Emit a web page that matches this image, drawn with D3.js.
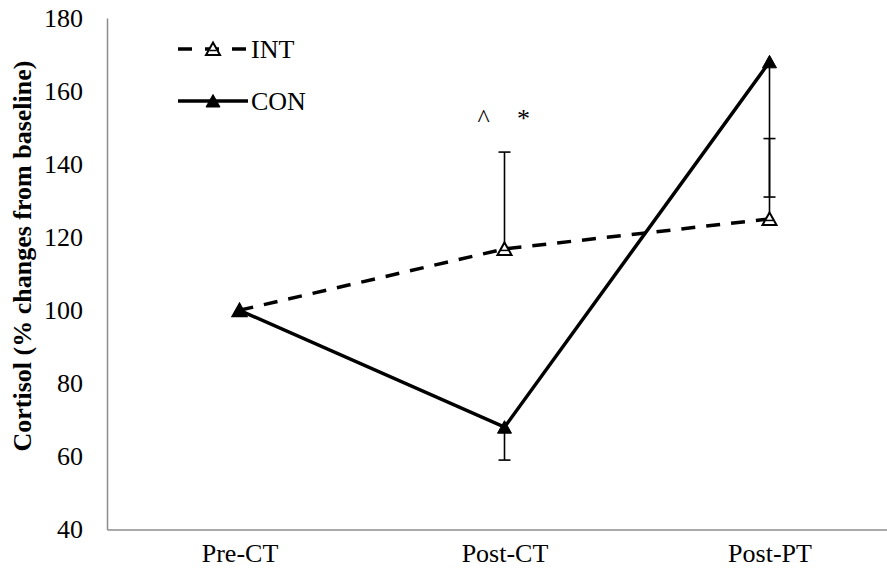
<!DOCTYPE html>
<html>
<head>
<meta charset="utf-8">
<script src="https://cdn.jsdelivr.net/npm/d3@7"></script>
<style>
  html, body { margin: 0; padding: 0; background: #fff; }
  svg { display: block; }
</style>
</head>
<body>
<svg id="chart" width="887" height="573"></svg>
<script>
// ---- data ----
const categories = ["Pre-CT", "Post-CT", "Post-PT"];
const intValues = [100, 116.8, 125];
const conValues = [100, 68, 168];
const intErrPlus = [0, 26.5, 22];     // INT: upper error bars
const conErrMinus = [0, 9, 37];        // CON: lower error bars
const yTicks = [40, 60, 80, 100, 120, 140, 160, 180];
const seriesNames = ["INT", "CON"];
const annotations = [{ cat: "Post-CT", dx: -21, text: "^" }, { cat: "Post-CT", dx: 19, text: "*" }];
const yTitle = "Cortisol (% changes from baseline)";

// ---- pick an installed serif font ----
function pickFont(cands) {
  const c = document.createElement("canvas").getContext("2d");
  const probe = "Post-CT 180 mmmwwwiii";
  for (const f of cands) {
    for (const base of ["monospace", "sans-serif"]) {
      c.font = `26px ${base}`; const w0 = c.measureText(probe).width;
      c.font = `26px "${f}", ${base}`; const w1 = c.measureText(probe).width;
      if (Math.abs(w0 - w1) > 0.5) return `"${f}", serif`;
    }
  }
  return "serif";
}
const FONT = pickFont(["Liberation Serif", "Times New Roman", "Tinos", "DejaVu Serif", "Noto Serif"]);

// ---- layout ----
const svg = d3.select("#chart").style("font-family", FONT);
const plotLeft = 107, plotRight = 902, plotTop = 18, plotBottom = 529.5;

const x = d3.scalePoint().domain(categories).range([plotLeft, plotRight]).padding(0.5);
const y = d3.scaleLinear().domain([40, 180]).range([plotBottom, plotTop]);

// axes (no tick marks)
const yAxis = svg.append("g").attr("transform", `translate(${plotLeft},0)`)
  .call(d3.axisLeft(y).tickValues(yTicks).tickSize(0).tickPadding(24));
yAxis.attr("font-family", FONT).attr("font-size", 26);
yAxis.select(".domain").attr("stroke", "#8c8c8c").attr("stroke-width", 1.5);
yAxis.selectAll("text").attr("fill", "#000");

const xAxis = svg.append("g").attr("transform", `translate(0,${plotBottom})`)
  .call(d3.axisBottom(x).tickSize(0).tickPadding(14));
xAxis.attr("font-family", FONT).attr("font-size", 26);
xAxis.select(".domain").attr("stroke", "#8c8c8c").attr("stroke-width", 1.5);
xAxis.selectAll("text").attr("fill", "#000");

// y title
svg.append("text")
  .attr("transform", `translate(31,256) rotate(-90)`)
  .attr("text-anchor", "middle")
  .attr("font-family", FONT)
  .attr("font-size", 26).attr("font-weight", "bold")
  .text(yTitle);

const line = d3.line().x((d, i) => x(categories[i])).y(d => y(d));

// error bars
const capW = 6;
function errBar(cat, v0, v1) {
  const cx = x(cat);
  svg.append("line").attr("x1", cx).attr("x2", cx).attr("y1", y(v0)).attr("y2", y(v1))
    .attr("stroke", "#000").attr("stroke-width", 1.6);
  svg.append("line").attr("x1", cx - capW).attr("x2", cx + capW).attr("y1", y(v1)).attr("y2", y(v1))
    .attr("stroke", "#000").attr("stroke-width", 1.6);
}
categories.forEach((c, i) => {
  if (intErrPlus[i] > 0) errBar(c, intValues[i], intValues[i] + intErrPlus[i]);
  if (conErrMinus[i] > 0) errBar(c, conValues[i], conValues[i] - conErrMinus[i]);
});

// lines
svg.append("path").datum(intValues).attr("d", line)
  .attr("fill", "none").attr("stroke", "#000").attr("stroke-width", 3.5)
  .attr("stroke-dasharray", "14,11");
svg.append("path").datum(conValues).attr("d", line)
  .attr("fill", "none").attr("stroke", "#000").attr("stroke-width", 3.5);

// markers
function tri(cx, cy, filled) {
  const p = `M${cx},${cy - 6.5}L${cx + 7},${cy + 6}L${cx - 7},${cy + 6}Z`;
  svg.append("path").attr("d", p)
    .attr("fill", filled ? "#000" : "#fff")
    .attr("stroke", "#000").attr("stroke-width", filled ? 1 : 2);
  if (!filled) {
    svg.append("line").attr("x1", cx - 3.5).attr("x2", cx + 3.5).attr("y1", cy + 1.5).attr("y2", cy + 1.5)
      .attr("stroke", "#000").attr("stroke-width", 1.5);
  }
}
categories.forEach((c, i) => tri(x(c), y(intValues[i]), false));
categories.forEach((c, i) => tri(x(c), y(conValues[i]), true));

// annotations
annotations.forEach(a => {
  svg.append("text").attr("x", x(a.cat) + a.dx).attr("y", 127)
    .attr("text-anchor", "middle").attr("font-family", FONT).attr("font-size", 26).text(a.text);
});

// legend
const legY = [49, 101];
const lx0 = 178, lx1 = 248;
seriesNames.forEach((name, i) => {
  const ly = legY[i];
  const l = svg.append("line").attr("x1", lx0).attr("x2", lx1).attr("y1", ly).attr("y2", ly)
    .attr("stroke", "#000").attr("stroke-width", 3.5);
  if (i === 0) l.attr("stroke-dasharray", "14,13");
  tri((lx0 + lx1) / 2, ly, i === 1);
  svg.append("text").attr("x", lx1 + 3).attr("y", ly + 9).attr("font-family", FONT).attr("font-size", 26).text(name);
});
</script>
</body>
</html>
